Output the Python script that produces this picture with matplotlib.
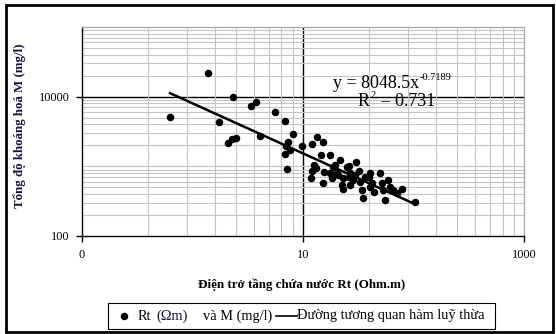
import matplotlib
matplotlib.use("Agg")
import matplotlib.pyplot as plt
from matplotlib.patches import Rectangle
from matplotlib.lines import Line2D
import numpy as np

plt.rcParams['font.family'] = ['Liberation Serif', 'DejaVu Serif']

# Data: resistivity Rt (Ohm.m) vs total mineralisation M (mg/l)
rt = [0.63, 1.4, 1.75, 2.09, 2.28, 2.49, 2.33, 3.4, 3.78, 4.11, 5.65, 6.92, 8.22,
      7.31, 7.06, 7.67, 6.92, 7.21, 9.8, 12.1, 13.4, 15.2, 14.5, 17.7, 12.5, 13.2,
      11.8, 12.2, 15.4, 15.2, 18.9, 20.3, 21.8, 23.3, 23.0, 25.9, 26.8, 30.4, 28.7,
      32.5, 33.0, 35.3, 36.6, 40.6, 42.1, 44.2, 50.1, 51.9, 53.6, 55.6, 59.5, 61.7,
      65.3, 71.0, 78.7, 104.0,
      17.7, 18.3, 19.6, 21.0, 22.5, 25.0, 25.9, 26.8, 29.7, 34.2, 39.3, 40.6]
mineral = [5100, 21900, 4270, 2160, 2460, 2570, 9770, 7420, 8280, 2750, 6080, 4410, 2940,
           2200, 1930, 1730, 1510, 920, 1930, 2090, 2600, 2200, 1460, 1460, 1050, 940,
           680, 860, 840, 570, 990, 800, 1240, 680, 470, 1020, 800, 1170, 640,
           870, 600, 350, 710, 810, 570, 430, 800, 570, 460, 330, 640, 510,
           460, 410, 470, 310,
           800, 680, 1050, 755, 540, 990, 710, 540, 755, 460, 710, 510]

coef_a = 8048.5
coef_b = -0.7189
r2 = 0.731

x_ticks = [0.1, 10, 1000]
x_ticklabels = ["0", "10", "1000"]
y_ticks = [100, 10000]
y_ticklabels = ["100", "10000"]

W, H = 556, 334
fig = plt.figure(figsize=(W / 100, H / 100), dpi=100)
tf = fig.transFigure

# outer chart frame
fig.patches.append(Rectangle((6 / W, 1 - 332 / H), 547 / W, 327 / H, transform=tf,
                             fill=False, edgecolor='black', linewidth=2.0))

ax = fig.add_axes([81.7 / W, 1 - 236 / H, (524 - 81.7) / W, (236 - 27) / H])
ax.set_xscale('log')
ax.set_yscale('log')
ax.set_xlim(0.1, 1000)
ax.set_ylim(100, 100000)

# minor gridlines (Excel-like)
xminor = [m * k ** 2 for m in (0.1, 10) for k in range(2, 10)]
yminor = [k * 10 ** e for e in range(2, 5) for k in range(2, 10)] + [1000]
ax.set_xticks(xminor, minor=True)
ax.set_yticks(yminor, minor=True)
ax.set_xticklabels([], minor=True)
ax.set_yticklabels([], minor=True)
ax.grid(which='minor', color='#c4c4c4', linewidth=0.8)
ax.axvline(10, color='black', linewidth=1.0, zorder=1.5)
ax.axhline(10000, color='black', linewidth=1.0, zorder=1.5)
ax.tick_params(which='minor', length=0)

ax.set_xticks(x_ticks)
ax.set_xticklabels(x_ticklabels, fontsize=8.8)
ax.set_yticks(y_ticks)
ax.set_yticklabels(y_ticklabels, fontsize=8.8)
ax.tick_params(which='major', direction='out', length=4, width=1, color='black', pad=5)

for s in ('top', 'right'):
    ax.spines[s].set_color('#a8a8a8')
    ax.spines[s].set_linewidth(0.9)
for s in ('left', 'bottom'):
    ax.spines[s].set_color('black')
    ax.spines[s].set_linewidth(1.0)

ax.plot(rt, mineral, 'o', color='black', markersize=4.4, zorder=3)

xt = np.logspace(np.log10(min(rt)), np.log10(max(rt)), 50)
ax.plot(xt, coef_a * xt ** coef_b, color='black', linewidth=1.8, zorder=3)

# trend-line equation (separate pieces for superscripts)
renderer = fig.canvas.get_renderer()


def right_px(t):
    bb = t.get_window_extent(renderer=renderer)
    return bb.x1


t1 = fig.text(333 / W, 1 - 88 / H, "y = 8048.5x", ha='left', va='baseline', fontsize=13)
x1 = right_px(t1)
fig.text((x1 + 0.5) / W, 1 - 80 / H, "%s" % coef_b, ha='left', va='baseline', fontsize=7.5)
t2 = fig.text(358 / W, 1 - 106 / H, "R", ha='left', va='baseline', fontsize=13)
x2 = right_px(t2)
t3 = fig.text((x2 + 0.5) / W, 1 - 98 / H, "2", ha='left', va='baseline', fontsize=7.5)
x3 = right_px(t3)
fig.text((x3 + 0.5) / W, 1 - 106 / H, " = %s" % r2, ha='left', va='baseline', fontsize=13)

ycol = '#141438'
fig.text(20 / W, 1 - 126 / H, "Tổng độ khoáng hoá M (mg/l)", rotation=90, ha='center', va='center',
         fontsize=9.3, fontweight='bold', color=ycol)
fig.text(302 / W, 1 - 285 / H, "Điện trở tầng chứa nước Rt (Ohm.m)", ha='center', va='center',
         fontsize=9.4, fontweight='bold')

# legend box
fig.patches.append(Rectangle((108 / W, 1 - 329 / H), (495 - 108) / W, (329 - 303) / H,
                             transform=tf, fill=False, edgecolor='black', linewidth=0.8))
ly = 1 - 316 / H
lfs = 10.4
fig.lines.append(Line2D([124 / W], [ly], marker='o', color='black', markersize=4.4,
                        transform=tf))
fig.text(138 / W, ly, "Rt", ha='left', va='center', fontsize=lfs)
fig.text(156 / W, ly, "(Ωm)", ha='left', va='center', fontsize=lfs, color=ycol)
fig.text(203 / W, ly, "và M (mg/l)", ha='left', va='center', fontsize=lfs)
fig.lines.append(Line2D([276 / W, 297 / W], [ly, ly], color='black', linewidth=1.2,
                        transform=tf))
fig.text(297 / W, ly, "Đường tương quan hàm luỹ thừa", ha='left', va='center', fontsize=lfs)

fig.savefig("out.png", dpi=100)
